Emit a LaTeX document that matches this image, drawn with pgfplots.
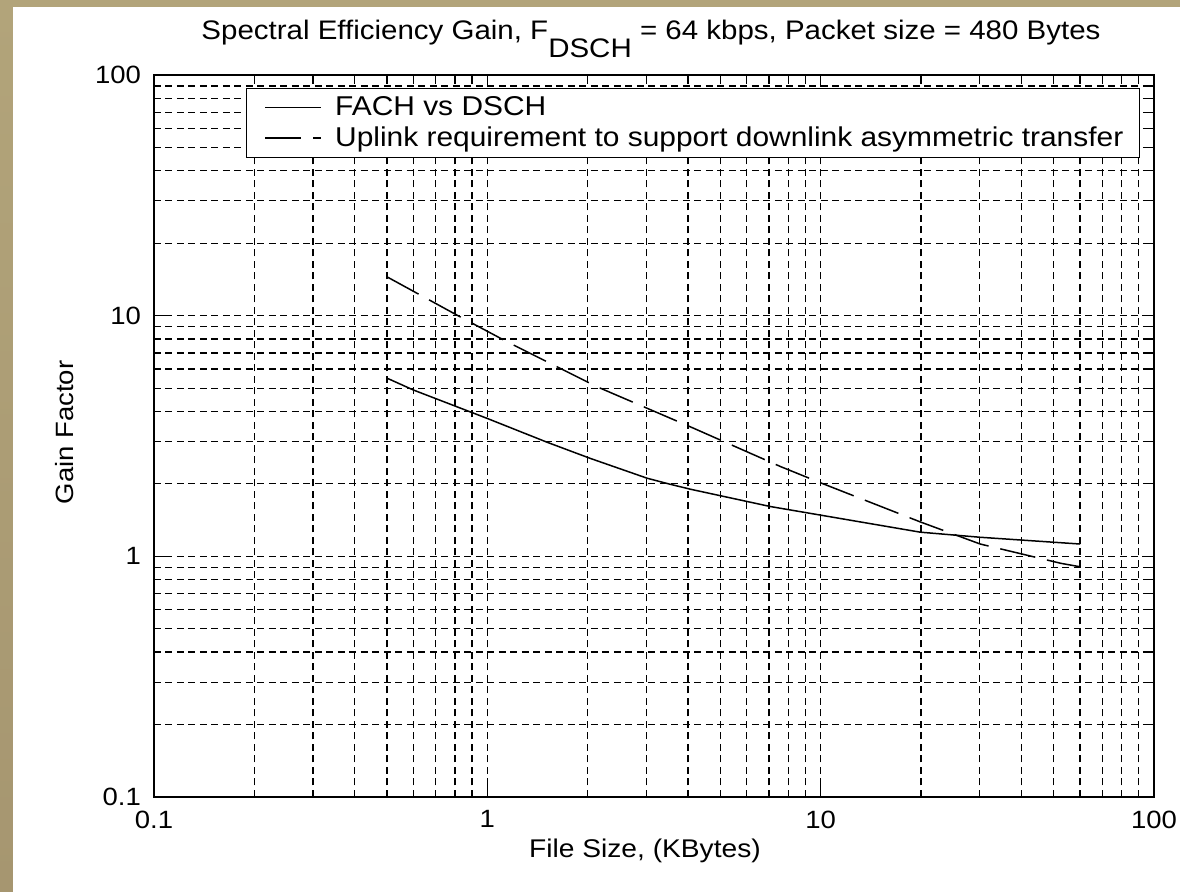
\documentclass[border=0pt]{standalone}
\usepackage{fontspec}
\setmainfont{Liberation Sans}[FakeStretch=1.1]
\usepackage{pgfplots}
\pgfplotsset{compat=1.18}
\definecolor{tanTop}{RGB}{178,164,122}
\definecolor{tanMid}{RGB}{226,206,152}
\definecolor{tanBot}{RGB}{166,150,112}
\begin{document}
\begin{tikzpicture}
\path[use as bounding box] (-77pt,-47.5pt) rectangle (513pt,398.5pt);
\fill[white] (-77pt,-47.5pt) rectangle (513pt,398.5pt);
\fill[tanTop] (-77pt,395pt) rectangle (513pt,398.5pt);
\shade[top color=tanTop, middle color=tanMid, bottom color=tanBot] (-77pt,-47.5pt) rectangle (-70.5pt,398.5pt);
\begin{axis}[
  at={(0,0)}, anchor=south west,
  scale only axis, width=500pt, height=361pt,
  xmode=log, ymode=log,
  xmin=0.1, xmax=100, ymin=0.1, ymax=100,
  xtick={0.1,1,10,100}, xticklabels={\mbox{0.1},\mbox{1},\mbox{10},\mbox{100}},
  ytick={0.1,1,10,100}, yticklabels={\mbox{0.1},\mbox{1},\mbox{10},\mbox{100}},
  minor xtick={0.2,0.3,0.4,0.5,0.6,0.7,0.8,0.9,2,3,4,5,6,7,8,9,20,30,40,50,60,70,80,90},
  minor ytick={0.2,0.3,0.4,0.5,0.6,0.7,0.8,0.9,2,3,4,5,6,7,8,9,20,30,40,50,60,70,80,90},
  grid=both,
  major grid style={black, line width=0.6pt, dash pattern=on 3.5pt off 2.25pt},
  minor grid style={black, line width=0.6pt, dash pattern=on 3.5pt off 2.25pt},
  tick align=inside, xtick pos=both, ytick pos=both,
  major tick length=6pt, minor tick length=3.5pt,
  every tick/.style={black, line width=0.6pt},
  axis line style={black, line width=0.6pt},
  /pgf/number format/assume math mode=true,
  tick label style={font=\fontsize{12.5}{14}\selectfont},
  xticklabel style={yshift=-3.3pt},
  yticklabel style={xshift=-3pt},
  title={Spectral Efficiency Gain, F\raisebox{-9pt}[0pt][0pt]{DSCH} = 64 kbps, Packet size = 480 Bytes},
  title style={at={(axis description cs:0.497,1.0332)}, anchor=base, font=\fontsize{13.4}{15}\selectfont},
  xlabel={File Size, (KBytes)},
  xlabel style={at={(axis description cs:0.491,-0.0748)}, anchor=center, font=\fontsize{12.8}{14}\selectfont},
  ylabel={Gain Factor},
  ylabel style={at={(axis description cs:-0.089,0.505)}, anchor=center, font=\fontsize{12.5}{14}\selectfont},
  legend style={at={(axis description cs:0.986,0.982)}, anchor=north east, draw=black, line width=0.6pt, fill=white, font=\fontsize{13.6}{15.5}\selectfont, inner xsep=6pt, inner ysep=2pt},
  legend cell align=left,
  legend image code/.code={\path[draw=none] (-3.5pt,0pt) -- (33pt,0pt); \draw[#1] (0pt,0pt) -- (28pt,0pt);},
]
\addplot[black, line width=0.75pt] coordinates {
(0.5,5.5) (0.6,4.91) (1,3.74) (1.51,2.98) (2.04,2.55) (3.02,2.11) (3.5,2.0) (4.07,1.90) (7.07,1.61) (19.9,1.26) (30.1,1.20) (60,1.125)
};
\addplot[black, line width=0.75pt, dash pattern=on 18pt off 6pt] coordinates {
(0.5,14.5) (0.81,10.06) (1.146,7.79) (2.13,5.07) (4.07,3.45) (7.58,2.36) (10,2.02) (19.9,1.39) (30.1,1.125) (52.6,0.935) (60,0.905)
};
\legend{FACH vs DSCH, Uplink requirement to support downlink asymmetric transfer}
\end{axis}
\end{tikzpicture}
\end{document}
